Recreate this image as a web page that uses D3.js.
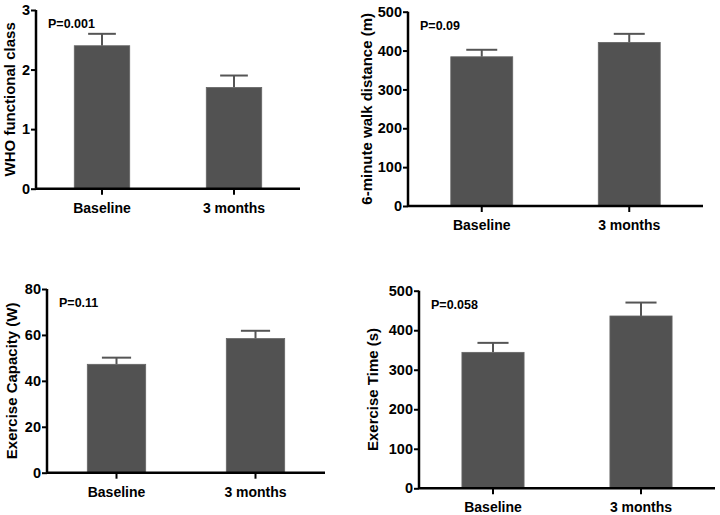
<!DOCTYPE html>
<html><head><meta charset="utf-8">
<script src="https://cdn.jsdelivr.net/npm/d3@7"></script>
<style>
html,body{margin:0;padding:0;background:#fff;}
text{font-family:"Liberation Sans",Arial,sans-serif;font-weight:bold;fill:#000;}
</style></head>
<body>
<svg id="c" width="720" height="515"></svg>
<script>
const categories = ["Baseline", "3 months"];

const yTitles = ["WHO functional class", "6-minute walk distance (m)", "Exercise Capacity (W)", "Exercise Time (s)"];
const yMaxes = [3, 500, 80, 500];
const yTicks = [[0, 1, 2, 3], [0, 100, 200, 300, 400, 500], [0, 20, 40, 60, 80], [0, 100, 200, 300, 400, 500]];
const pLabels = ["P=0.001", "P=0.09", "P=0.11", "P=0.058"];

const whoValues = [2.4, 1.7];
const whoErrors = [0.2, 0.2];
const walkValues = [384, 421];
const walkErrors = [18, 22];
const capacityValues = [47.2, 58.4];
const capacityErrors = [2.9, 3.4];
const timeValues = [344, 436];
const timeErrors = [24, 34];

const seriesValues = [whoValues, walkValues, capacityValues, timeValues];
const seriesErrors = [whoErrors, walkErrors, capacityErrors, timeErrors];

// panel layout (plot box: left, right, top, bottom) and y-title x centre
const layout = [
  {l: 36, r: 300, t: 10, b: 188.7, tx: 10},
  {l: 408, r: 703, t: 11.7, b: 206, tx: 367},
  {l: 47, r: 325, t: 289, b: 472.7, tx: 12},
  {l: 419, r: 715, t: 290.7, b: 488.3, tx: 373}
];

const svg = d3.select("#c");
const barFill = "#525252";
const FONT = "'Liberation Sans',Arial,sans-serif";

layout.forEach((L, i) => {
  const g = svg.append("g");
  const x = d3.scaleBand().domain(categories).range([L.l, L.r]).paddingInner(0.58).paddingOuter(0.29);
  const y = d3.scaleLinear().domain([0, yMaxes[i]]).range([L.b, L.t]);
  const data = categories.map((c, k) => ({c, v: seriesValues[i][k], e: seriesErrors[i][k]}));

  // error bars
  const eg = g.append("g").attr("stroke", "#555").attr("stroke-width", 2).attr("fill", "none");
  data.forEach(d => {
    const cx = x(d.c) + x.bandwidth() / 2;
    eg.append("line").attr("x1", cx).attr("x2", cx).attr("y1", y(d.v)).attr("y2", y(d.v + d.e));
    eg.append("line").attr("x1", cx - x.bandwidth() * 0.25).attr("x2", cx + x.bandwidth() * 0.25)
      .attr("y1", y(d.v + d.e)).attr("y2", y(d.v + d.e));
  });

  // bars
  g.selectAll("rect.bar").data(data).join("rect").attr("class", "bar")
    .attr("x", d => x(d.c)).attr("width", x.bandwidth())
    .attr("y", d => y(d.v)).attr("height", d => y(0) - y(d.v))
    .attr("fill", barFill).attr("stroke", "#666").attr("stroke-width", 0.8);

  // y axis
  const ya = g.append("g").attr("transform", `translate(${L.l},0)`)
    .call(d3.axisLeft(y).tickValues(yTicks[i]).tickSize(5).tickPadding(1).tickFormat(d3.format("d")));
  ya.select(".domain").attr("stroke", "#000").attr("stroke-width", 2.5).attr("d", `M0,${L.t}V${L.b}`);
  ya.selectAll(".tick line").attr("stroke", "#000").attr("stroke-width", 2);
  ya.selectAll(".tick text").style("font-size", "14.5px").style("font-weight", "bold")
    .style("font-family", FONT).attr("fill", "#000");

  // x axis
  const xa = g.append("g").attr("transform", `translate(0,${L.b})`)
    .call(d3.axisBottom(x).tickSize(6).tickPadding(8));
  xa.select(".domain").attr("stroke", "#000").attr("stroke-width", 2.5).attr("d", `M${L.l},0H${L.r}`);
  xa.selectAll(".tick line").attr("stroke", "#000").attr("stroke-width", 2);
  xa.selectAll(".tick text").style("font-size", "14px").style("font-weight", "bold")
    .style("font-family", FONT).attr("fill", "#000");

  // P label
  g.append("text").attr("x", L.l + 12).attr("y", L.t + 18).style("font-size", "12.5px").text(pLabels[i]);

  // y title
  g.append("text").attr("transform", `translate(${L.tx + 5},${(L.t + L.b) / 2}) rotate(-90)`)
    .attr("text-anchor", "middle").style("font-size", "15px").text(yTitles[i]);
});
</script>
</body></html>
